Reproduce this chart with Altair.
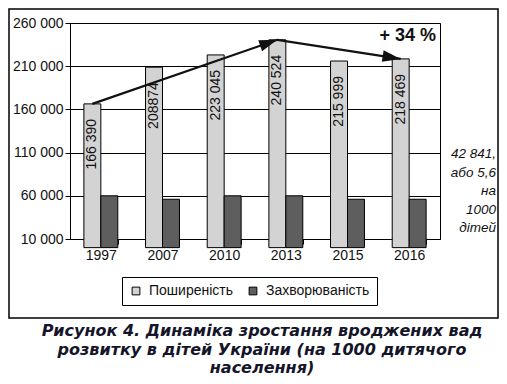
import altair as alt
import pandas as pd

years = ["1997", "2007", "2010", "2013", "2015", "2016"]
prevalence = [166390, 208874, 223045, 240524, 215999, 218469]
prevalence_labels = ["166 390", "208874", "223 045", "240 524", "215 999", "218 469"]
incidence = [60000, 56000, 60000, 60000, 56000, 56000]
series_names = ["Поширеність", "Захворюваність"]
series_colors = ["#d3d3d3", "#5e5e5e"]

arrow_years = ["1997", "2013", "2016"]
arrow_values = [166390, 240524, 218469]

y_ticks = [10000, 60000, 110000, 160000, 210000, 260000]
growth_text = "+ 34 %"
side_note = ["42 841,", "або 5,6", "на", "1000", "дітей"]
caption = ["Рисунок 4. Динаміка зростання вроджених вад",
           "розвитку в дітей України (на 1000 дитячого",
           "населення)"]

FONT = "Liberation Sans"
W, H = 370, 216

rows = []
for i, yr in enumerate(years):
    rows.append({"year": yr, "series": series_names[0], "value": prevalence[i], "label": prevalence_labels[i]})
    rows.append({"year": yr, "series": series_names[1], "value": incidence[i], "label": ""})
bars_df = pd.DataFrame(rows)
prev_df = bars_df[bars_df.series == series_names[0]]
arrow_df = pd.DataFrame({"year": arrow_years, "value": arrow_values, "order": list(range(len(arrow_years)))})

x_enc = alt.X("year:N", sort=years, title=None,
              scale=alt.Scale(paddingInner=0.45, paddingOuter=0.225),
              axis=alt.Axis(labelAngle=0, labelFont=FONT, labelFontSize=14, labelColor="#111",
                            labelPadding=4, tickBand="extent", tickSize=5, tickColor="black",
                            domainColor="black", grid=False))
y_scale = alt.Scale(domain=[10000, 260000], nice=False, zero=False)
y_enc = alt.Y("value:Q", scale=y_scale, title=None,
              axis=alt.Axis(values=y_ticks, labelExpr="replace(format(datum.value, ','), ',', ' ')",
                            labelFont=FONT, labelFontSize=14, labelColor="#111", labelPadding=2,
                            tickSize=5, tickColor="black", domainColor="black",
                            grid=True, gridColor="black", gridOpacity=1, gridWidth=1))

bars = alt.Chart(bars_df).mark_bar(stroke="black", strokeWidth=1).encode(
    x=x_enc,
    y=y_enc,
    xOffset=alt.XOffset("series:N", sort=series_names, scale=alt.Scale(paddingInner=0, paddingOuter=0)),
    color=alt.Color("series:N", sort=series_names,
                    scale=alt.Scale(domain=series_names, range=series_colors),
                    legend=alt.Legend(title=None, orient="none", direction="horizontal",
                                      legendX=52, legendY=254, strokeColor="black",
                                      padding=7, symbolType="square", symbolSize=60,
                                      symbolStrokeColor="black", symbolStrokeWidth=1,
                                      labelFont=FONT, labelFontSize=14, labelColor="#111",
                                      columnPadding=12, labelOffset=6)),
)

labels = alt.Chart(prev_df).mark_text(angle=270, align="right", baseline="middle", dx=-15,
                                      xOffset=-8.5, font=FONT, fontSize=14, color="#111").encode(
    x=alt.X("year:N", sort=years),
    y=alt.Y("value:Q", scale=y_scale),
    text="label:N",
)

line = alt.Chart(arrow_df).mark_line(color="#111", strokeWidth=2.2, xOffset=-8.5).encode(
    x=alt.X("year:N", sort=years),
    y=alt.Y("value:Q", scale=y_scale),
    order="order:Q",
)

arrow_path = "M0,0 L-2,-0.65 L-2,0.65 Z"
head1 = alt.Chart(arrow_df[arrow_df.year == arrow_years[1]]).mark_point(
    shape=arrow_path, filled=True, color="#111", opacity=1, size=330, angle=341, xOffset=-8.5).encode(
    x=alt.X("year:N", sort=years), y=alt.Y("value:Q", scale=y_scale))
head2 = alt.Chart(arrow_df[arrow_df.year == arrow_years[2]]).mark_point(
    shape=arrow_path, filled=True, color="#111", opacity=1, size=330, angle=9, xOffset=-8.5).encode(
    x=alt.X("year:N", sort=years), y=alt.Y("value:Q", scale=y_scale))

growth = alt.Chart(pd.DataFrame({"t": [growth_text]})).mark_text(
    align="right", baseline="middle", font=FONT, fontSize=18, fontWeight="bold", color="#111").encode(
    x=alt.value(366), y=alt.value(13), text="t:N")

note = alt.Chart(pd.DataFrame({"t": ["\n".join(side_note)]})).mark_text(
    align="right", baseline="top", font=FONT, fontSize=13.5, fontStyle="italic", color="#111",
    lineBreak="\n", lineHeight=18.5).encode(
    x=alt.value(426), y=alt.value(124), text="t:N")

cap = alt.Chart(pd.DataFrame({"t": ["\n".join(caption)]})).mark_text(
    align="center", baseline="top", font="DejaVu Sans", fontSize=16, fontStyle="italic",
    fontWeight="bold", color="#15152a", lineBreak="\n", lineHeight=18.5).encode(
    x=alt.value(192), y=alt.value(300), text="t:N")

frame = alt.Chart(pd.DataFrame({"a": [0]})).mark_rect(
    fill=None, stroke="black", strokeWidth=1.5).encode(
    x=alt.value(-61), x2=alt.value(428), y=alt.value(-14), y2=alt.value(295))

chart = alt.layer(frame, bars, line, head1, head2, labels, growth, note, cap).properties(
    width=W, height=H,
    padding={"left": 62, "top": 15, "right": 59, "bottom": 137},
    autosize=alt.AutoSizeParams(type="none"),
).configure_view(stroke="black", strokeWidth=1)

chart.save("out.html", embed_options={"renderer": "svg", "actions": False})
